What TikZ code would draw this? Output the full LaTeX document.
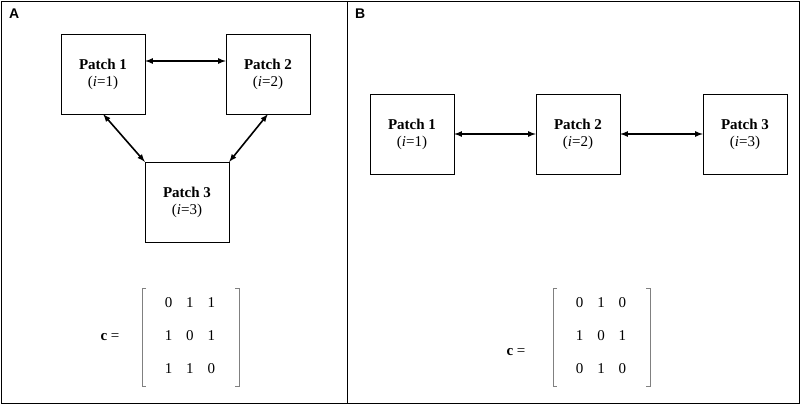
\documentclass[tikz,border=0pt]{standalone}
\usepackage{fontspec}
\setmainfont{Liberation Serif}
\newfontfamily\panelfont{Liberation Sans}
\usetikzlibrary{positioning}
\begin{document}
\begin{tikzpicture}[x=1pt,y=1pt,yscale=-1,
	patch/.style={draw,minimum width=84pt,minimum height=80pt,inner sep=0pt,align=center,font=\fontsize{15}{17}\selectfont},
	link/.style={line width=1.6pt,<->,>=latex},
	entry/.style={font=\fontsize{15}{17}\selectfont},
	panel/.style={anchor=north west,inner sep=0pt,font=\panelfont\bfseries\fontsize{14}{16}\selectfont}]
	\useasboundingbox (0,0) rectangle (800,405);
	%Panels
	\draw (1,1) rectangle (347,403);
	\draw (347,1) rectangle (799,403);
	\node[panel] (lblA) at (9,9) {A};
	\node[panel] (lblB) at (355,9) {B};

	%Panel A: triangle of patches
	\node[patch] (a1) at (103,74) {\textbf{Patch 1}\\(\textit{i}=1)};
	\node[patch] (a2) at (268,74) {\textbf{Patch 2}\\(\textit{i}=2)};
	\node[patch] (a3) at (187,202) {\textbf{Patch 3}\\(\textit{i}=3)};
	\draw[link] ([yshift=-13pt]a1.east) -- ([yshift=-13pt]a2.west);
	\draw[link] ([xshift=-42pt]a1.south east) -- (a3.north west);
	\draw[link] ([xshift=42pt]a2.south west) -- (a3.north east);

	%Panel A: matrix
	\node[entry] (ca) at (110,337) {\textbf{c} =};
	\draw[gray] (146,288) -- (142,288) -- (142,386) -- (146,386);
	\draw[gray] (235,288) -- (239,288) -- (239,386) -- (235,386);
	\foreach \r/\a/\b/\c [count=\k] in {0/1/1/1,1/0/1/2,1/1/0/3}
		\node[entry] (ma\k) at (190,270+33*\k) {\r\hspace{14pt}\a\hspace{14pt}\b};

	%Panel B: chain of patches
	\node[patch] (b1) at (412,134) {\textbf{Patch 1}\\(\textit{i}=1)};
	\node[patch] (b2) at (578,134) {\textbf{Patch 2}\\(\textit{i}=2)};
	\node[patch] (b3) at (745,134) {\textbf{Patch 3}\\(\textit{i}=3)};
	\draw[link] (b1) -- (b2);
	\draw[link] (b2) -- (b3);

	%Panel B: matrix
	\node[entry] (cb) at (516,352) {\textbf{c} =};
	\draw[gray] (557,288) -- (553,288) -- (553,386) -- (557,386);
	\draw[gray] (646,288) -- (650,288) -- (650,386) -- (646,386);
	\foreach \r/\a/\b/\c [count=\k] in {0/1/0/1,1/0/1/2,0/1/0/3}
		\node[entry] (mb\k) at (601,270+33*\k) {\r\hspace{14pt}\a\hspace{14pt}\b};
\end{tikzpicture}
\end{document}
